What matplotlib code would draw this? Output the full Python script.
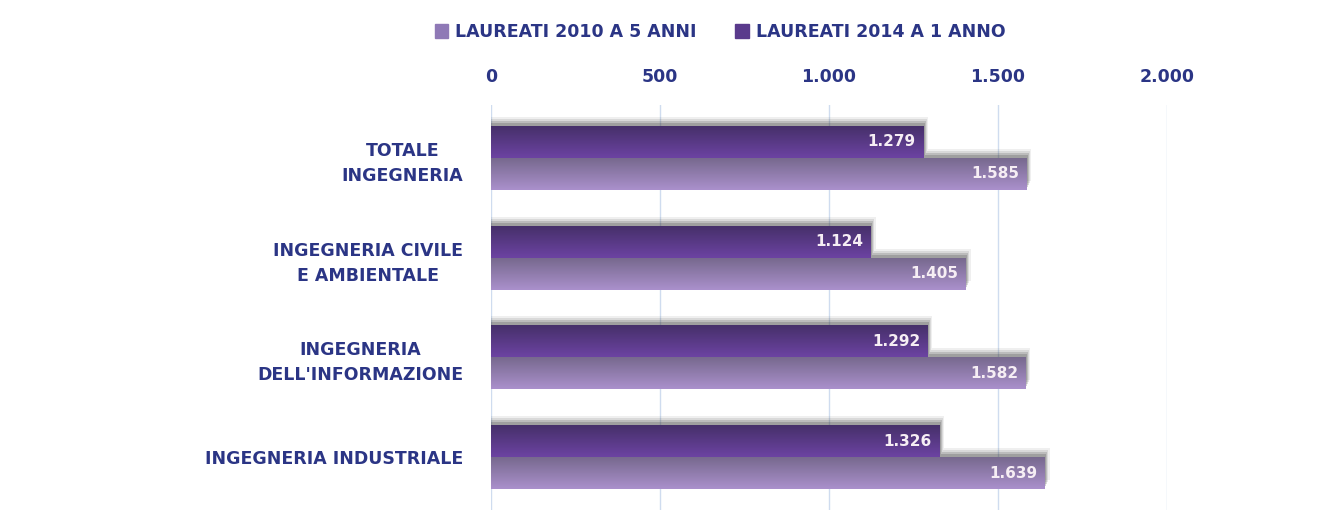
import numpy as np
import matplotlib
matplotlib.use("Agg")
import matplotlib.pyplot as plt
from matplotlib.colors import LinearSegmentedColormap
from matplotlib.patches import Patch

# data
categories = ["TOTALE\nINGEGNERIA", "INGEGNERIA CIVILE\nE AMBIENTALE",
              "INGEGNERIA\nDELL'INFORMAZIONE", "INGEGNERIA INDUSTRIALE"]
laureati_2014_1anno = [1279, 1124, 1292, 1326]
laureati_2010_5anni = [1585, 1405, 1582, 1639]
series_names = ["LAUREATI 2010 A 5 ANNI", "LAUREATI 2014 A 1 ANNO"]
xticks = [0, 500, 1000, 1500, 2000]
xtick_labels = ["0", "500", "1.000", "1.500", "2.000"]

TXT = "#2b3585"
DARK = ("#46306a", "#6c43a2")
LIGHT = ("#77698e", "#aa90cc")


def fmt(v):
    return "{:,}".format(v).replace(",", ".")


def gradient_bar(ax, y, val, h, cols):
    bar = ax.barh(y, val, height=h, color=cols[1], zorder=3)[0]
    cmap = LinearSegmentedColormap.from_list("g", list(cols))
    grad = np.linspace(0, 1, 64).reshape(-1, 1)
    im = ax.imshow(grad, cmap=cmap, aspect="auto", origin="upper",
                   extent=(0, val, y + h / 2, y - h / 2), zorder=4)
    im.set_clip_path(bar)
    # soft shadow, above and to the right of the bar
    for off, ext, a in [(0.09, 14, 0.08), (0.07, 10, 0.12), (0.05, 7, 0.18), (0.03, 4, 0.22)]:
        ax.barh(y - off, val + ext, height=h, color="#3a3a3a",
                alpha=a, zorder=2, linewidth=0)
    ax.text(val - 22, y, fmt(val), ha="right", va="center", color="#f6eef4",
            fontsize=11, fontweight="bold", zorder=5)


fig = plt.figure(figsize=(13.29, 5.18), dpi=100)
ax = fig.add_axes([491 / 1329, 1 - 510 / 518, (1167 - 491) / 1329, (510 - 105) / 518])

y = np.arange(len(categories))
h = 0.32
for i in range(len(categories)):
    gradient_bar(ax, y[i] - 0.16, laureati_2014_1anno[i], h, DARK)
    gradient_bar(ax, y[i] + 0.16, laureati_2010_5anni[i], h, LIGHT)

ax.set_xlim(0, 2000)
ax.set_ylim(3.53, -0.53)
ax.xaxis.tick_top()
ax.set_xticks(xticks)
ax.set_xticklabels(xtick_labels, fontsize=12.5, fontweight="bold", color=TXT)
ax.set_yticks(y)
ax.set_yticklabels(categories, fontsize=12.5, fontweight="bold", color=TXT,
                   multialignment="center", linespacing=1.5)
ax.tick_params(axis="x", length=0, pad=14)
ax.tick_params(axis="y", length=0, pad=20)
ax.grid(axis="x", color="#cfdcef", linewidth=1)
ax.set_axisbelow(True)
for s in ax.spines.values():
    s.set_visible(False)

handles = [Patch(color="#8f79b6"), Patch(color="#5a3a8c")]
fig.legend(handles, series_names, loc="center", ncol=2,
           bbox_to_anchor=(720 / 1329, 1 - 32 / 518), frameon=False,
           prop={"size": 12.5, "weight": "bold"}, labelcolor=TXT,
           handlelength=0.8, handleheight=0.8, handletextpad=0.4,
           columnspacing=2.2)

fig.savefig("out.png", dpi=100)
